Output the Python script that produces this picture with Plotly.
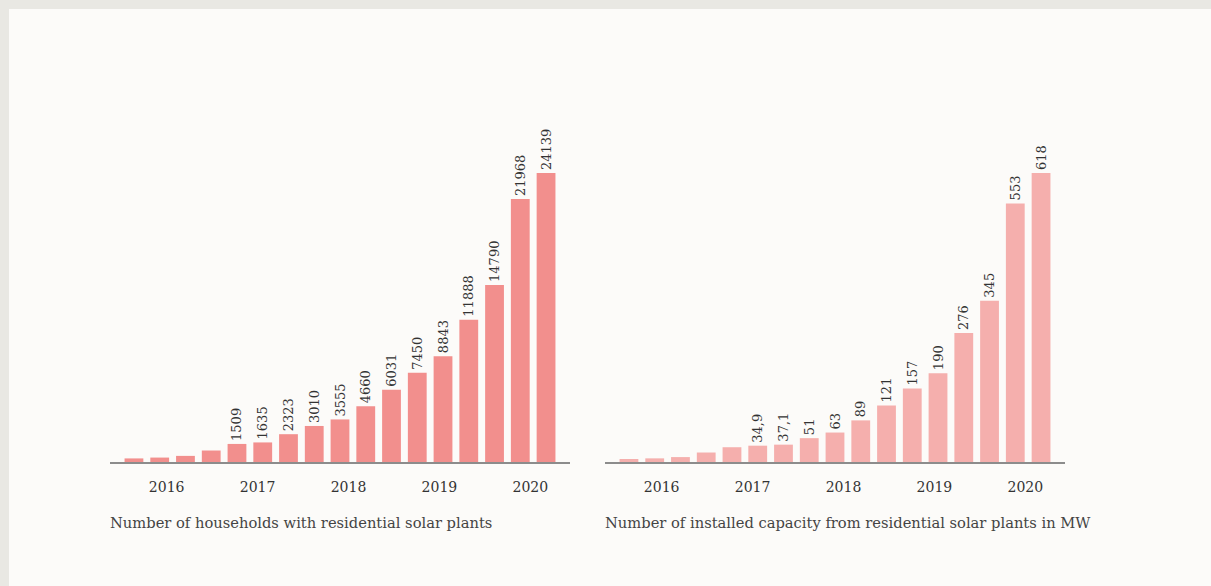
import plotly.graph_objects as go

# Residential solar: households and installed capacity, periods 2016-2020
households = [300, 370, 510, 960, 1509, 1635, 2323, 3010, 3555, 4660, 6031,
              7450, 8843, 11888, 14790, 21968, 24139]
households_label_from = 4

capacity_mw = [6.4, 7.8, 10.5, 20.3, 31.6, 34.9, 37.1, 51, 63, 89, 121,
               157, 190, 276, 345, 553, 618]
capacity_label_from = 5

year_labels = ["2016", "2017", "2018", "2019", "2020"]

title_left = "Number of households with residential solar plants"
title_right = "Number of installed capacity from residential solar plants in MW"

W, H = 1211, 586
FONT = "DejaVu Serif"
TEXT = "#333333"


def fmt(v):
    s = f"{v:g}"
    return s.replace(".", ",")


def px_x(p):
    return p / W


def px_y(p):
    return 1 - p / H


n = len(households)
idx = list(range(n))
year_pos = [1.27 + 3.53 * k for k in range(len(year_labels))]

fig = go.Figure()

fig.add_trace(go.Bar(
    x=idx, y=households,
    text=[str(v) if i >= households_label_from else "" for i, v in enumerate(households)],
    textposition="outside", textangle=-90, cliponaxis=False, constraintext="none",
    textfont=dict(family=FONT, size=13, color=TEXT),
    marker=dict(color="#f28f8d", line=dict(width=0)),
    xaxis="x", yaxis="y", hoverinfo="skip",
))

fig.add_trace(go.Bar(
    x=idx, y=capacity_mw,
    text=[fmt(v) if i >= capacity_label_from else "" for i, v in enumerate(capacity_mw)],
    textposition="outside", textangle=-90, cliponaxis=False, constraintext="none",
    textfont=dict(family=FONT, size=13, color=TEXT),
    marker=dict(color="#f5afad", line=dict(width=0)),
    xaxis="x2", yaxis="y2", hoverinfo="skip",
))

base_y = px_y(462)
top_y = px_y(173)

xcommon = dict(
    range=[-0.93, n - 1 + 0.93], showgrid=False, zeroline=False,
    showline=True, linecolor="#8c8c8c", linewidth=2,
    ticks="", tickvals=year_pos, ticktext=year_labels,
    tickfont=dict(family=FONT, size=14, color=TEXT),
    ticklabelstandoff=11, fixedrange=True,
)
ycommon = dict(visible=False, showgrid=False, zeroline=False, fixedrange=True)

fig.update_layout(
    width=W, height=H,
    margin=dict(l=0, r=0, t=0, b=0),
    paper_bgcolor="#e9e8e3",
    plot_bgcolor="rgba(0,0,0,0)",
    showlegend=False,
    bargap=0.27,
    xaxis=dict(domain=[px_x(110), px_x(570)], anchor="y", **xcommon),
    xaxis2=dict(domain=[px_x(605), px_x(1065)], anchor="y2", **xcommon),
    yaxis=dict(domain=[base_y, top_y], range=[0, max(households)], anchor="x", **ycommon),
    yaxis2=dict(domain=[base_y, top_y], range=[0, max(capacity_mw)], anchor="x2", **ycommon),
    shapes=[dict(
        type="rect", xref="paper", yref="paper", layer="below",
        x0=px_x(9), x1=1.01, y0=-0.01, y1=px_y(9),
        fillcolor="#fcfbf9", line=dict(width=0),
    )],
    annotations=[
        dict(text=title_left, xref="paper", yref="paper",
             x=px_x(108), y=px_y(522), xanchor="left", yanchor="middle",
             showarrow=False, font=dict(family=FONT, size=14.7, color="#444444")),
        dict(text=title_right, xref="paper", yref="paper",
             x=px_x(603), y=px_y(522), xanchor="left", yanchor="middle",
             showarrow=False, font=dict(family=FONT, size=14.7, color="#444444")),
    ],
)

fig.write_html("out.html", config={"displayModeBar": False})
